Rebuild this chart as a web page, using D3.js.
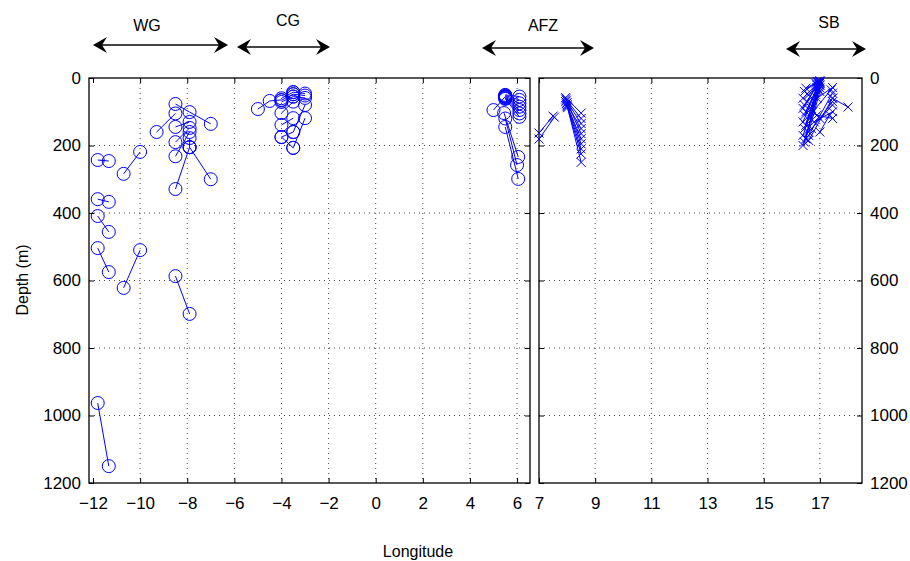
<!DOCTYPE html>
<html lang="en">
  <head>
    <meta charset="UTF-8" />
    <title>Float depth vs longitude</title>
    <script src="https://cdnjs.cloudflare.com/ajax/libs/d3/7.8.5/d3.min.js"></script>
    <style>
      body { margin: 0; background: #fff; }
      svg text { font-family: "Liberation Sans", Arial, sans-serif; fill: #000; }
    </style>
  </head>
  <body>
    <div id="chart"></div>
    <script>
      // tracks: each is a list of [longitude, depth]
      const wgTracks = [
        [[-8.5, 77], [-7.9, 101], [-7.0, 136]],
        [[-9.3, 160], [-8.5, 105]],
        [[-8.5, 145], [-7.9, 130]],
        [[-8.5, 190], [-7.9, 148]],
        [[-8.5, 232], [-7.9, 160]],
        [[-7.9, 178], [-7.9, 205]],
        [[-7.9, 205], [-7.0, 300]],
        [[-7.9, 205], [-8.5, 329]],
        [[-8.5, 587], [-7.9, 699]],
        [[-11.8, 243], [-11.33, 246]],
        [[-10.0, 219], [-10.7, 284]],
        [[-11.8, 359], [-11.33, 367]],
        [[-11.8, 409], [-11.33, 456]],
        [[-11.8, 504], [-11.33, 575]],
        [[-10.0, 510], [-10.7, 622]],
        [[-11.8, 963], [-11.33, 1150]]
      ];
      const cgTracks = [
        [[-5.0, 92], [-4.5, 68], [-4.0, 65]],
        [[-4.0, 60], [-3.5, 42]],
        [[-4.0, 66], [-3.5, 48]],
        [[-4.0, 71], [-3.5, 55]],
        [[-3.5, 42], [-3.0, 46]],
        [[-3.5, 48], [-3.0, 52]],
        [[-3.5, 55], [-3.0, 59]],
        [[-4.0, 104], [-3.5, 70]],
        [[-4.0, 139], [-3.5, 119]],
        [[-4.0, 175], [-3.5, 160]],
        [[-4.0, 175], [-3.5, 207]],
        [[-3.0, 80], [-3.5, 160]],
        [[-3.0, 119], [-3.5, 207]]
      ];
      const afzTracks = [
        [[5.0, 95], [5.5, 55]],
        [[5.5, 50], [6.1, 55]],
        [[5.5, 52], [6.1, 65]],
        [[5.5, 54], [6.1, 75]],
        [[5.5, 56], [6.1, 85]],
        [[5.5, 58], [6.1, 95]],
        [[5.5, 60], [6.1, 105]],
        [[5.5, 62], [6.1, 115]],
        [[5.45, 104], [6.05, 234]],
        [[5.5, 120], [6.0, 258]],
        [[5.5, 145], [6.05, 299]]
      ];
      const eastTracks = [
        [[7.0, 163], [7.5, 113]],
        [[7.0, 181], [7.55, 116]],
        [[7.95, 58], [8.5, 104]],
        [[7.95, 62], [8.5, 120]],
        [[7.97, 66], [8.5, 135]],
        [[7.95, 70], [8.5, 150]],
        [[8.0, 73], [8.5, 165]],
        [[7.97, 76], [8.5, 180]],
        [[8.0, 79], [8.5, 195]],
        [[8.0, 82], [8.5, 210]],
        [[8.0, 85], [8.5, 225]],
        [[8.02, 88], [8.5, 250]]
      ];
      const sbTracks = [
        [[16.4, 200], [17.0, 30]],
        [[16.45, 190], [17.0, 22]],
        [[16.5, 180], [17.0, 20]],
        [[16.4, 170], [16.95, 35]],
        [[16.6, 160], [17.0, 40]],
        [[16.45, 150], [16.95, 18]],
        [[16.5, 140], [16.95, 25]],
        [[16.4, 130], [17.0, 12]],
        [[16.65, 120], [17.0, 10]],
        [[16.45, 110], [16.9, 28]],
        [[16.5, 100], [16.9, 30]],
        [[16.4, 90], [16.95, 15]],
        [[16.7, 90], [17.0, 15]],
        [[16.45, 80], [16.9, 22]],
        [[16.55, 70], [16.9, 20]],
        [[16.4, 60], [16.95, 12]],
        [[16.6, 50], [17.0, 8]],
        [[16.45, 40], [16.9, 10]],
        [[16.5, 30], [16.85, 15]],
        [[16.6, 185], [17.45, 60]],
        [[16.6, 170], [17.45, 45]],
        [[16.7, 150], [17.45, 80]],
        [[16.8, 130], [17.45, 100]],
        [[16.9, 110], [17.45, 120]],
        [[16.75, 100], [17.4, 35]],
        [[17.0, 120], [17.45, 70]],
        [[17.0, 160], [17.35, 110]],
        [[16.9, 60], [17.45, 28]],
        [[17.45, 60], [18.0, 86]]
      ];
      const depthTicks = [0, 200, 400, 600, 800, 1000, 1200];
      const westTicks = [-12, -10, -8, -6, -4, -2, 0, 2, 4, 6];
      const eastTicks = [7, 9, 11, 13, 15, 17];
      const regions = [
        { name: "WG", x1: 93, x2: 228, y: 45, tx: 147, ty: 25 },
        { name: "CG", x1: 237, x2: 330, y: 47, tx: 288, ty: 20 },
        { name: "AFZ", x1: 482, x2: 594, y: 48, tx: 543, ty: 25 },
        { name: "SB", x1: 786, x2: 866, y: 49, tx: 829, ty: 22 }
      ];

      const width = 910;
      const height = 561;
      const blue = "#0000ff";
      const fontSize = 17;

      const svg = d3
        .select("#chart")
        .append("svg")
        .attr("width", width)
        .attr("height", height);

      const y = d3.scaleLinear().domain([0, 1200]).range([78, 483]);
      const xWest = d3.scaleLinear().domain([-12.17, 6.55]).range([89, 530]);
      const xEast = d3.scaleLinear().domain([7, 18.5]).range([539, 862]);

      function drawPanel(x, xticks, gridTicks, side) {
        const g = svg.append("g");
        const [x0, x1] = x.range();
        const [y0, y1] = y.range();

        // dotted grid
        g.selectAll(".vg")
          .data(gridTicks)
          .join("line")
          .attr("x1", (d) => x(d)).attr("x2", (d) => x(d))
          .attr("y1", y0).attr("y2", y1)
          .attr("stroke", "#000").attr("stroke-width", 1)
          .attr("stroke-dasharray", "1,4").attr("opacity", 0.7);
        g.selectAll(".hg")
          .data(depthTicks.slice(1, -1))
          .join("line")
          .attr("x1", x0).attr("x2", x1)
          .attr("y1", (d) => y(d)).attr("y2", (d) => y(d))
          .attr("stroke", "#000").attr("stroke-width", 1)
          .attr("stroke-dasharray", "1,4").attr("opacity", 0.7);

        // axes with inward ticks
        const bottom = g.append("g").attr("transform", `translate(0,${y1})`)
          .call(d3.axisBottom(x).tickValues(xticks).tickSizeInner(-5).tickSizeOuter(0).tickPadding(14));
        const top = g.append("g").attr("transform", `translate(0,${y0})`)
          .call(d3.axisTop(x).tickValues(xticks).tickSizeInner(-5).tickSizeOuter(0).tickFormat(""));
        const left = g.append("g").attr("transform", `translate(${x0},0)`)
          .call(d3.axisLeft(y).tickValues(depthTicks).tickSizeInner(-5).tickSizeOuter(0).tickPadding(8)
            .tickFormat(side === "left" ? d3.format("d") : ""));
        const right = g.append("g").attr("transform", `translate(${x1},0)`)
          .call(d3.axisRight(y).tickValues(depthTicks).tickSizeInner(-5).tickSizeOuter(0).tickPadding(8)
            .tickFormat(side === "right" ? d3.format("d") : ""));
        [bottom, top, left, right].forEach((a) => {
          a.select(".domain").remove();
          a.selectAll("text").attr("font-size", fontSize).attr("font-family", "Liberation Sans, Arial, sans-serif");
          a.selectAll("line").attr("stroke", "#000");
        });
        bottom.selectAll("text").text((d) => (d < 0 ? "\u2212" + Math.abs(d) : d));

        g.append("rect")
          .attr("x", x0).attr("y", y0)
          .attr("width", x1 - x0).attr("height", y1 - y0)
          .attr("fill", "none").attr("stroke", "#000").attr("stroke-width", 1.3);
        return g;
      }

      const west = drawPanel(xWest, westTicks, westTicks.slice(1), "left");
      const east = drawPanel(xEast, eastTicks, eastTicks.slice(1), "right");

      const line = (x) => d3.line().x((d) => x(d[0])).y((d) => y(d[1]));

      function drawTracks(g, x, tracks, marker) {
        const t = g.append("g");
        t.selectAll("path.trk")
          .data(tracks)
          .join("path")
          .attr("d", line(x))
          .attr("fill", "none")
          .attr("stroke", blue)
          .attr("stroke-width", 1);
        const pts = tracks.flat();
        if (marker === "o") {
          t.selectAll("circle")
            .data(pts)
            .join("circle")
            .attr("cx", (d) => x(d[0]))
            .attr("cy", (d) => y(d[1]))
            .attr("r", 6.5)
            .attr("fill", "none")
            .attr("stroke", blue)
            .attr("stroke-width", 1);
        } else {
          const s = 4.5;
          t.selectAll("path.mk")
            .data(pts)
            .join("path")
            .attr("d", (d) => {
              const cx = x(d[0]), cy = y(d[1]);
              return `M${cx - s},${cy - s}L${cx + s},${cy + s}M${cx - s},${cy + s}L${cx + s},${cy - s}`;
            })
            .attr("stroke", blue)
            .attr("stroke-width", 1)
            .attr("fill", "none");
        }
      }

      drawTracks(west, xWest, wgTracks, "o");
      drawTracks(west, xWest, cgTracks, "o");
      drawTracks(west, xWest, afzTracks, "o");
      drawTracks(east, xEast, eastTracks, "x");
      drawTracks(east, xEast, sbTracks, "x");

      // region arrows
      const head = (tx, ty, dir) =>
        `M${tx},${ty}L${tx - dir * 14},${ty - 8}L${tx - dir * 9},${ty}L${tx - dir * 14},${ty + 8}Z`;
      const ann = svg.append("g");
      regions.forEach((r) => {
        ann.append("line")
          .attr("x1", r.x1 + 6).attr("x2", r.x2 - 6)
          .attr("y1", r.y).attr("y2", r.y)
          .attr("stroke", "#444").attr("stroke-width", 2);
        ann.append("path").attr("d", head(r.x2, r.y, 1)).attr("fill", "#000");
        ann.append("path").attr("d", head(r.x1, r.y, -1)).attr("fill", "#000");
        ann.append("text")
          .attr("x", r.tx).attr("y", r.ty)
          .attr("dy", "0.35em")
          .attr("text-anchor", "middle")
          .attr("font-size", 16)
          .text(r.name);
      });

      svg.append("text")
        .attr("transform", "translate(22,280) rotate(-90)")
        .attr("text-anchor", "middle")
        .attr("dy", "0.35em")
        .attr("font-size", 16)
        .text("Depth (m)");

      svg.append("text")
        .attr("x", 418).attr("y", 551)
        .attr("text-anchor", "middle")
        .attr("dy", "0.35em")
        .attr("font-size", 16)
        .text("Longitude");
    </script>
  </body>
</html>
